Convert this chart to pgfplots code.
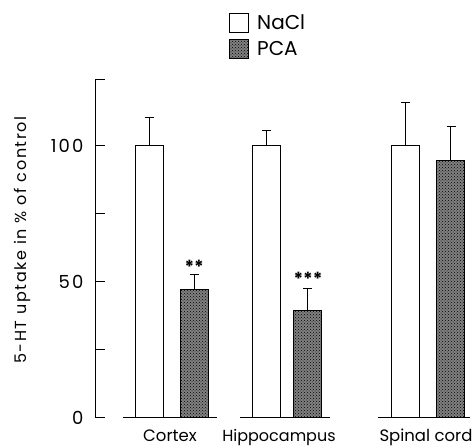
\documentclass[border=0pt]{standalone}
\usepackage{fontspec}
\setmainfont{Poppins}
\newfontfamily\spacedfont[LetterSpace=12]{Poppins}
\newfontfamily\labelfont[LetterSpace=10]{Poppins}
\usepackage{pgfplots}
\pgfplotsset{compat=1.18}
\usetikzlibrary{patterns}
\begin{document}
\begin{tikzpicture}
\useasboundingbox (0pt,0pt) rectangle (475pt,448pt);
\begin{axis}[
  at={(96pt,30.3pt)}, anchor=south west,
  scale only axis, width=379pt, height=338.4pt,
  xmin=96, xmax=475, ymin=0, ymax=124.4,
  axis x line=none, axis y line*=left,
  y axis line style={line width=1pt, black},
  ytick={0,25,50,75,100,124.4},
  yticklabels={0,,50,,100,},
  tick align=inside, major tick length=9pt,
  tick style={line width=1pt, black},
  /pgf/number format/assume math mode=true,
  yticklabel style={font=\spacedfont\fontsize{18}{18}\selectfont, xshift=-9pt},
  clip=false,
  legend style={at={(axis description cs:0.351,1.196)}, anchor=north west,
    draw=none, fill=none, font=\fontsize{20}{20}\selectfont,
    row sep=6pt, inner sep=0pt},
  legend cell align=left,
  legend image code/.code={\draw[#1, line width=1pt] (0pt,-9.5pt) rectangle (19pt,9.5pt);
    \path (25pt,0pt);},
  error bars/error bar style={line width=1pt, black},
  error bars/error mark options={rotate=90, mark size=4.5pt, line width=1pt, black},
]
\addplot[ybar, bar shift=0pt, bar width=28, draw=black, line width=1pt, fill=white,
  error bars/.cd, y dir=plus, y explicit]
  coordinates {(149.2,100) +- (0,10.4) (266.5,100) +- (0,5.4) (406,100) +- (0,16)};
\addlegendentry{NaCl}
\addplot[ybar, bar shift=0pt, bar width=28, draw=black, line width=1pt, fill=black!50,
  postaction={pattern=crosshatch dots, pattern color=black},
  error bars/.cd, y dir=plus, y explicit]
  coordinates {(194.2,47.2) +- (0,5.3) (308,39.3) +- (0,8.3) (451,94.4) +- (0,12.8)};
\addlegendentry{PCA}
\draw[line width=1pt] (axis cs:123,0) -- (axis cs:217,0);
\draw[line width=1pt] (axis cs:240,0) -- (axis cs:330,0);
\draw[line width=1pt] (axis cs:378,0) -- (axis cs:470,0);
\node[font=\bfseries\fontsize{18}{18}\selectfont] at (axis cs:194.2,55.5) {**};
\node[font=\bfseries\fontsize{18}{18}\selectfont] at (axis cs:308,51) {***};
\node[font=\fontsize{16.5}{16.5}\selectfont, anchor=base] at (axis cs:170,-8.6) {Cortex};
\node[font=\fontsize{16}{16}\selectfont, anchor=base] at (axis cs:279,-8.6) {Hippocampus};
\node[font=\fontsize{16.5}{16.5}\selectfont, anchor=base] at (axis cs:426,-8.6) {Spinal cord};
\node[rotate=90, font=\labelfont\fontsize{16}{16}\selectfont] at (axis cs:22,65.3) {5-HT uptake in \% of control};
\end{axis}
\end{tikzpicture}
\end{document}
